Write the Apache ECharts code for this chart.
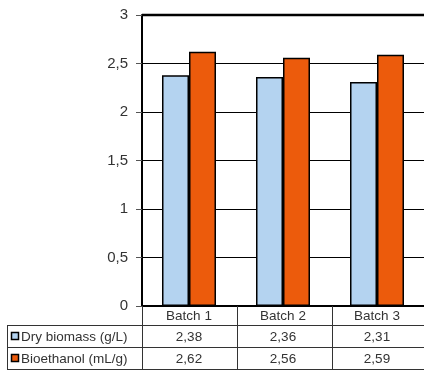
<!DOCTYPE html>
<html><head><meta charset="utf-8">
<script src="https://cdn.jsdelivr.net/npm/echarts@6/dist/echarts.min.js"></script>
<style>html,body{margin:0;padding:0;background:#fff}#c{width:424px;height:371px}</style>
</head><body><div id="c"></div>
<script>
const categories = ['Batch 1', 'Batch 2', 'Batch 3'];
const seriesNames = ['Dry biomass (g/L)', 'Bioethanol (mL/g)'];
const dryBiomass = [2.38, 2.36, 2.31];
const bioethanol = [2.62, 2.56, 2.59];
const yTicks = [0, 0.5, 1, 1.5, 2, 2.5, 3];
const colors = ['#B4D3F0', '#EC5B0C'];
const FONT = 'Liberation Sans';
const fmt = v => String(v).replace('.', ',');

const chart = echarts.init(document.getElementById('c'), null, {renderer: 'canvas'});
const gridLeft = 142, gridTop = 15, gridW = 285, gridH = 291;
chart.setOption({
  animation: false,
  grid: {left: gridLeft, top: gridTop, width: gridW, height: gridH},
  xAxis: {
    type: 'category', data: categories,
    axisLine: {show: true, lineStyle: {color: '#000', width: 2}}, axisTick: {show: false}, axisLabel: {show: false}
  },
  yAxis: {
    type: 'value', min: 0, max: 3, interval: 0.5,
    axisLine: {show: true, lineStyle: {color: '#000', width: 2}},
    axisTick: {show: true, length: 6, lineStyle: {color: '#555'}},
    axisLabel: {color: '#333', fontFamily: FONT, fontSize: 15, margin: 14,
      formatter: v => yTicks.includes(v) ? fmt(v) : ''},
    splitLine: {show: true, lineStyle: {color: '#000', width: 1}}
  },
  series: [
    {name: seriesNames[0], type: 'bar', data: dryBiomass, barWidth: 27, barGap: '0%',
     itemStyle: {color: colors[0], borderColor: '#000', borderWidth: 1.5}},
    {name: seriesNames[1], type: 'bar', data: bioethanol, barWidth: 27, barGap: '0%',
     itemStyle: {color: colors[1], borderColor: '#000', borderWidth: 1.5}}
  ]
});

// Build data table from arrays using axis positions
const band = gridW / categories.length;
const x0 = gridLeft, yAxisBottom = gridTop + gridH;
const rowH = [19, 22, 22];
const rows = [yAxisBottom, yAxisBottom + rowH[0], yAxisBottom + rowH[0] + rowH[1], yAxisBottom + rowH[0] + rowH[1] + rowH[2]];
const tableLeft = 7;
const els = [];
const line = (x1, y1, x2, y2, w, c) => els.push({type: 'line', shape: {x1, y1, x2, y2}, style: {stroke: c || '#333', lineWidth: w || 1}, z: 100});
// top thick plot border
line(x0, gridTop, x0 + gridW, gridTop, 2.5, '#000');
// right border
line(x0 + gridW, gridTop, x0 + gridW, rows[3], 1);
// horizontal table lines
for (let r = 1; r <= 3; r++) line(tableLeft, rows[r] + 0.5, x0 + gridW, rows[r] + 0.5, 1);
// vertical lines
line(tableLeft + 0.5, rows[1], tableLeft + 0.5, rows[3], 1);
for (let i = 0; i <= categories.length; i++) {
  const px = Math.round(x0 + i * band) + 0.5;
  line(px, rows[0], px, rows[3], 1);
}
const tf = '13.5px ' + FONT;
// header texts
categories.forEach((c, i) => {
  const cx = chart.convertToPixel({xAxisIndex: 0}, i);
  els.push({type: 'text', x: cx, y: (rows[0] + rows[1]) / 2 + 1, style: {text: c, fill: '#333', font: tf, align: 'center', verticalAlign: 'middle'}});
});
const seriesData = [dryBiomass, bioethanol];
seriesData.forEach((arr, s) => {
  const cy = (rows[s + 1] + rows[s + 2]) / 2 + 1;
  els.push({type: 'rect', shape: {x: 11.5, y: cy - 4.5, width: 7, height: 7}, style: {fill: colors[s], stroke: '#000', lineWidth: 1.5}});
  els.push({type: 'text', x: 21, y: cy, style: {text: seriesNames[s], fill: '#333', font: tf, align: 'left', verticalAlign: 'middle'}});
  arr.forEach((v, i) => {
    const cx = chart.convertToPixel({xAxisIndex: 0}, i);
    els.push({type: 'text', x: cx, y: cy, style: {text: fmt(v), fill: '#333', font: tf, align: 'center', verticalAlign: 'middle'}});
  });
});
chart.setOption({graphic: els});
</script></body></html>
